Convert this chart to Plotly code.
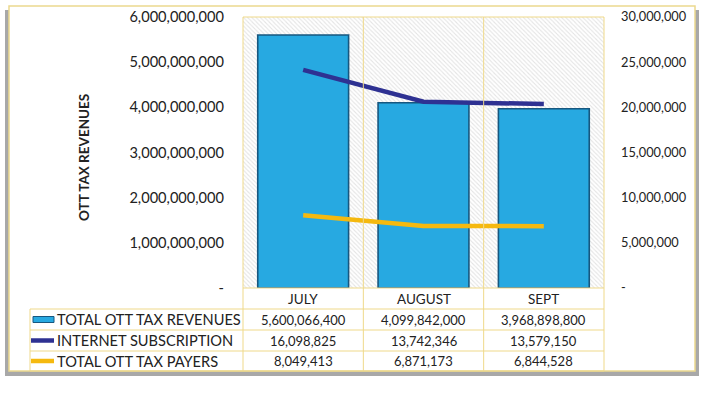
import plotly.graph_objects as go

# ---------------- data ----------------
months = ["JULY", "AUGUST", "SEPT"]
revenues = [5600066400, 4099842000, 3968898800]
subscriptions = [16098825, 13742346, 13579150]
payers = [8049413, 6871173, 6844528]
series_names = ["TOTAL OTT TAX REVENUES", "INTERNET SUBSCRIPTION", "TOTAL OTT TAX PAYERS"]

left_ticks = [0, 1e9, 2e9, 3e9, 4e9, 5e9, 6e9]
left_tick_text = ["-", "1,000,000,000", "2,000,000,000", "3,000,000,000",
                  "4,000,000,000", "5,000,000,000", "6,000,000,000"]
right_ticks = [0, 5e6, 10e6, 15e6, 20e6, 25e6, 30e6]
right_tick_text = ["-", "5,000,000", "10,000,000", "15,000,000",
                   "20,000,000", "25,000,000", "30,000,000"]
left_max = 6e9
right_max = 30e6
sub_max = 20e6
axis_title = "OTT TAX REVENUES"

# ---------------- geometry helpers (page pixels) ----------------
W, H = 704, 398
def px(x):
    return x / W
def py(y):
    return 1 - y / H

PL, PR, PT, PB = 243, 604, 17, 288
TL = 30
ROWS = [309, 330, 351, 371]
GRID = "#efd98a"
FONT = "Lato, 'Open Sans', sans-serif"
BAR = "#27a9e1"
NAVY = "#2e3192"
GOLD = "#f5b90f"

fig = go.Figure()

# hatched plot background (one cell per category, full axis height)
fig.add_trace(go.Bar(
    x=months, y=[left_max] * len(months), width=1,
    marker=dict(color="white", line=dict(width=0),
                pattern=dict(shape="\\", fgcolor="#c8c8c8", bgcolor="#ffffff",
                             size=3, solidity=0.35)),
    xaxis="x", yaxis="y", hoverinfo="skip", showlegend=False))

fig.add_trace(go.Bar(
    x=months, y=revenues, name=series_names[0],
    marker=dict(color=BAR, line=dict(color="#17577f", width=1.6)),
    xaxis="x", yaxis="y2", showlegend=False))

fig.add_trace(go.Scatter(
    x=months, y=payers, name=series_names[2], mode="lines",
    line=dict(color=GOLD, width=4.5), xaxis="x", yaxis="y3", showlegend=False))

fig.add_trace(go.Scatter(
    x=months, y=subscriptions, name=series_names[1], mode="lines",
    line=dict(color=NAVY, width=4.5), xaxis="x", yaxis="y4", showlegend=False))

dom_x = [px(PL), px(PR)]
dom_y = [py(PB), py(PT)]

fig.update_layout(
    width=W, height=H, margin=dict(l=0, r=0, t=0, b=0, autoexpand=False),
    paper_bgcolor="white", plot_bgcolor="rgba(0,0,0,0)",
    barmode="overlay", bargap=0.245,
    xaxis=dict(domain=dom_x, range=[-0.5, 2.5], showticklabels=False,
               showgrid=False, zeroline=False, automargin=False),
    yaxis=dict(domain=dom_y, range=[0, left_max], tickvals=left_ticks,
               ticktext=left_tick_text, tickfont=dict(family=FONT, size=14.6, color="#222"),
               showgrid=False, zeroline=False, ticks="", ticklabelstandoff=18,
               automargin=False),
    yaxis2=dict(overlaying="y", range=[0, left_max], visible=False, automargin=False),
    yaxis3=dict(overlaying="y", side="right", range=[0, right_max],
                tickvals=right_ticks, ticktext=right_tick_text,
                tickfont=dict(family=FONT, size=12.8, color="#222"),
                showgrid=False, zeroline=False, ticks="", ticklabelstandoff=16,
                automargin=False),
    yaxis4=dict(overlaying="y", range=[0, sub_max], visible=False, automargin=False),
)

shapes = []
anns = []
# outer frame shadow and box
shapes.append(dict(type="rect", xref="paper", yref="paper",
                   x0=px(5), x1=px(699), y0=py(376), y1=py(10),
                   fillcolor="#a8a8a8", line=dict(width=0), layer="below"))
shapes.append(dict(type="rect", xref="paper", yref="paper",
                   x0=px(9), x1=px(695), y0=py(371), y1=py(6),
                   fillcolor="white", line=dict(color="#ecd98e", width=1.5), layer="below"))

# plot area border + category separators
cell_x = [PL + i * (PR - PL) / len(months) for i in range(len(months) + 1)]
for x in cell_x:
    shapes.append(dict(type="line", xref="paper", yref="paper",
                       x0=px(x), x1=px(x), y0=py(PT), y1=py(ROWS[-1]),
                       line=dict(color=GRID, width=1)))
shapes.append(dict(type="line", xref="paper", yref="paper",
                   x0=px(PL), x1=px(PR), y0=py(PT), y1=py(PT),
                   line=dict(color=GRID, width=1)))
shapes.append(dict(type="line", xref="paper", yref="paper",
                   x0=px(PL), x1=px(PR), y0=py(PB), y1=py(PB),
                   line=dict(color=GRID, width=1)))
# table grid
for y in ROWS:
    shapes.append(dict(type="line", xref="paper", yref="paper",
                       x0=px(TL), x1=px(PR), y0=py(y), y1=py(y),
                       line=dict(color=GRID, width=1)))
shapes.append(dict(type="line", xref="paper", yref="paper",
                   x0=px(TL), x1=px(TL), y0=py(ROWS[0]), y1=py(ROWS[-1]),
                   line=dict(color=GRID, width=1)))

# category header labels
for i, m in enumerate(months):
    cx = (cell_x[i] + cell_x[i + 1]) / 2
    anns.append(dict(text=m, x=px(cx), y=py((PB + ROWS[0]) / 2), xref="paper", yref="paper",
                     showarrow=False, font=dict(family=FONT, size=13.5, color="#222"),
                     xanchor="center", yanchor="middle"))

# table rows
row_values = [revenues, subscriptions, payers]
for r, (name, vals) in enumerate(zip(series_names, row_values)):
    yc = (ROWS[r] + ROWS[r + 1]) / 2
    anns.append(dict(text=name, x=px(55), y=py(yc), xref="paper", yref="paper",
                     showarrow=False, font=dict(family=FONT, size=14.6, color="#222"),
                     xanchor="left", yanchor="middle"))
    for i, v in enumerate(vals):
        cx = (cell_x[i] + cell_x[i + 1]) / 2
        anns.append(dict(text=f"{v:,}", x=px(cx), y=py(yc), xref="paper", yref="paper",
                         showarrow=False, font=dict(family=FONT, size=13, color="#222"),
                         xanchor="center", yanchor="middle"))

# legend keys
yc0 = (ROWS[0] + ROWS[1]) / 2
shapes.append(dict(type="rect", xref="paper", yref="paper",
                   x0=px(33), x1=px(54), y0=py(yc0 + 3), y1=py(yc0 - 3),
                   fillcolor=BAR, line=dict(color="#17577f", width=1)))
for r, col in [(1, NAVY), (2, GOLD)]:
    yc = (ROWS[r] + ROWS[r + 1]) / 2
    shapes.append(dict(type="line", xref="paper", yref="paper",
                       x0=px(31), x1=px(54), y0=py(yc), y1=py(yc),
                       line=dict(color=col, width=4.5)))

# axis title
anns.append(dict(text=f"<b>{axis_title}</b>", x=px(84), y=py(158), xref="paper", yref="paper",
                 showarrow=False, textangle=-90,
                 font=dict(family=FONT, size=13.5, color="#222"),
                 xanchor="center", yanchor="middle"))

fig.update_layout(shapes=shapes, annotations=anns)
fig.write_html("out.html", config={"displayModeBar": False},
               post_script="document.body.style.margin='0px';")
